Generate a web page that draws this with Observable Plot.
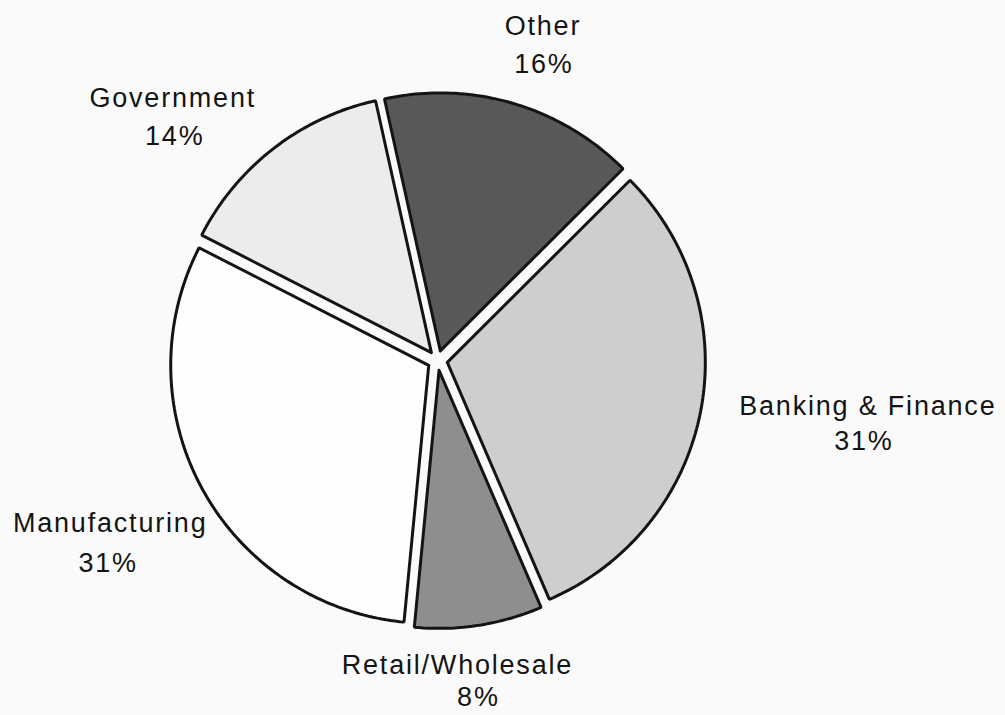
<!DOCTYPE html>
<html>
<head>
<meta charset="utf-8">
<script src="https://cdn.jsdelivr.net/npm/d3@7"></script>
<script src="https://cdn.jsdelivr.net/npm/@observablehq/plot@0.6"></script>
<style>
  html, body { margin: 0; padding: 0; background: #fafafa; }
</style>
</head>
<body>
<div id="chart"></div>
<script>
// ---- data ----
const categories = ["Other", "Banking & Finance", "Retail/Wholesale", "Manufacturing", "Government"];
const shares = [16, 31, 8, 31, 14];
const fills = ["#585858", "#cecece", "#8e8e8e", "#fefefe", "#ececec"];

// ---- layout (not data) ----
const W = 1005, H = 715;
const R = 258;                 // pie radius in px
const CX = 437, CY = 360;      // pie centre in px
const explode = 10 / R;        // slice offset (pie units)
const startDeg = -12.5;
// label block nudges (px) relative to the bisector point on the rim
const labelNudge = [[33, -68], [177, 15], [-20, 66], [-101, 59], [-107, -39]];
const pctDx = [1, -4, 21, -2, 2];
const halfLine = [19, 17.5, 16, 20, 19];

const pie = d3.pie().sort(null).value(d => d)
  .startAngle(startDeg * Math.PI / 180)
  .endAngle((startDeg + 360) * Math.PI / 180);
const arcs = pie(shares);

// polygon points for each slice, in pie units (y down)
const pts = [];
const labels = [];
arcs.forEach((a, i) => {
  const mid = (a.startAngle + a.endAngle) / 2;
  const ox = explode * Math.sin(mid), oy = -explode * Math.cos(mid);
  const name = categories[i];
  pts.push({name, x: ox, y: oy});
  const n = Math.max(8, Math.ceil((a.endAngle - a.startAngle) / (Math.PI / 180)));
  for (let k = 0; k <= n; k++) {
    const t = a.startAngle + (a.endAngle - a.startAngle) * k / n;
    pts.push({name, x: ox + Math.sin(t), y: oy - Math.cos(t)});
  }
  pts.push({name, x: ox, y: oy});
  const bx = Math.sin(mid) + labelNudge[i][0] / R;
  const by = -Math.cos(mid) + labelNudge[i][1] / R;
  labels.push({name, pct: shares[i] + "%", x: bx, y: by, i});
});

const textOpts = {fill: "#141414", fontSize: 27, textAnchor: "middle", lineAnchor: "middle"};

const chart = Plot.plot({
  width: W,
  height: H,
  margin: 0,
  x: {domain: [-CX / R, (W - CX) / R], range: [0, W], axis: null},
  y: {domain: [-CY / R, (H - CY) / R], range: [0, H], axis: null},
  color: {domain: categories, range: fills},
  style: {background: "#fafafa", fontFamily: "'Liberation Sans', Arial, Helvetica, sans-serif", letterSpacing: "1.8px"},
  marks: [
    Plot.line(pts, {
      x: "x", y: "y", z: "name", fill: "name",
      stroke: "#141414", strokeWidth: 3, strokeLinejoin: "miter", curve: "linear"
    }),
    ...labels.map(l => Plot.text([l], {
      x: "x", y: "y", text: "name", ...textOpts, dy: -halfLine[l.i]
    })),
    ...labels.map(l => Plot.text([l], {
      x: "x", y: "y", text: "pct", ...textOpts, dy: halfLine[l.i], dx: pctDx[l.i]
    }))
  ]
});
document.getElementById("chart").appendChild(chart);
</script>
</body>
</html>
